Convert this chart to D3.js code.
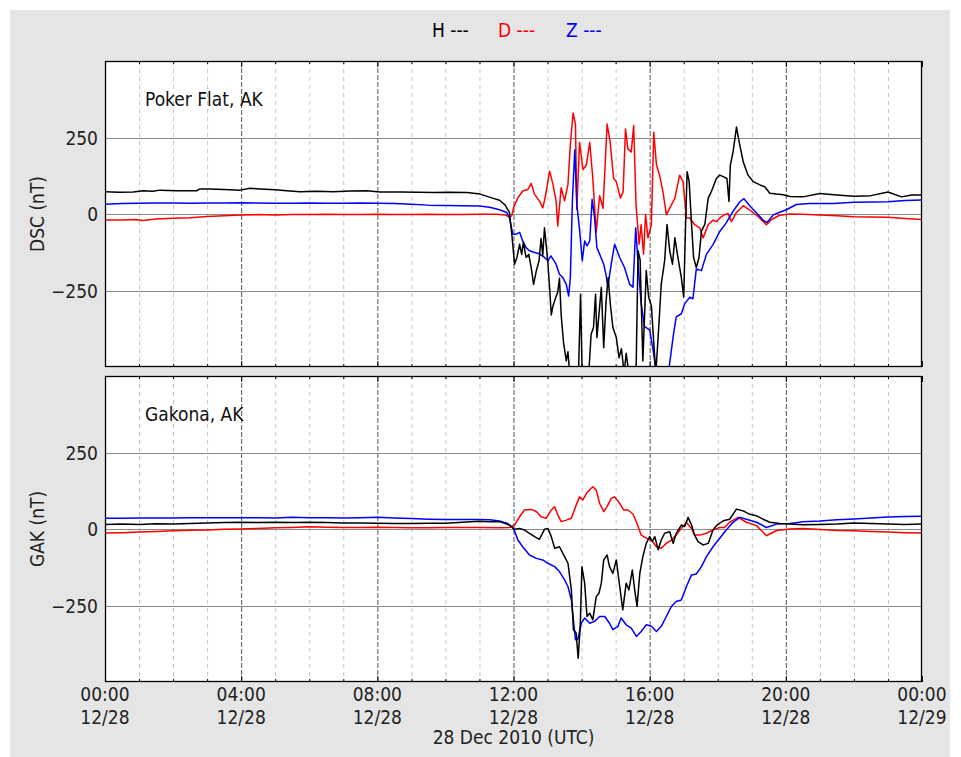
<!DOCTYPE html>
<html lang="en">
<head>
<meta charset="UTF-8">
<title>DSC / GAK magnetometer</title>
<script src="https://d3js.org/d3.v7.min.js"></script>
<style>
  body { margin: 0; background: #fff; }
  text { font-family: "DejaVu Sans Condensed", "DejaVu Sans", sans-serif; font-stretch: condensed; font-size: 19px; }
</style>
</head>
<body>
<svg width="961" height="757"></svg>
<script>
// hours since 00:00 UTC 28 Dec 2010, value in nT
const dscH = [[0,73],[0.4,71],[0.83,72],[1.12,76],[1.4,74],[1.62,78],[2.1,76],[2.69,76],[2.79,82],[3.08,82],[3.5,80],[3.97,78],[4.26,84],[4.55,82],[5,79],[5.34,76],[5.73,73],[6.2,74],[6.71,73],[7.2,75],[7.69,76],[8.08,72],[8.67,72],[9.2,71],[9.65,70],[10.1,71],[10.63,70],[11.02,65],[11.41,51],[11.59,45],[11.75,30],[11.88,5],[11.96,-77],[12.03,-164],[12.1,-142],[12.18,-99],[12.24,-132],[12.29,-93],[12.37,-142],[12.45,-132],[12.52,-175],[12.59,-230],[12.67,-186],[12.75,-153],[12.81,-80],[12.86,-135],[12.91,-45],[12.96,-100],[13.01,-160],[13.06,-240],[13.11,-330],[13.16,-300],[13.25,-270],[13.3,-255],[13.35,-210],[13.4,-330],[13.47,-420],[13.55,-480],[13.6,-450],[13.65,-520],[13.72,-560],[13.8,-540],[13.9,-560],[13.97,-262],[14.02,-540],[14.1,-560],[14.2,-540],[14.28,-393],[14.35,-371],[14.41,-262],[14.45,-404],[14.51,-328],[14.58,-240],[14.65,-437],[14.72,-284],[14.78,-208],[14.85,-300],[14.92,-371],[15.02,-404],[15.1,-470],[15.17,-440],[15.25,-520],[15.31,-455],[15.4,-530],[15.5,-560],[15.6,-520],[15.66,-120],[15.72,-150],[15.8,-480],[15.9,-185],[15.97,-272],[16.05,-300],[16.12,-420],[16.18,-520],[16.25,-401],[16.34,-229],[16.44,-153],[16.51,-34],[16.59,-121],[16.67,-164],[16.74,-78],[16.83,-142],[16.93,-207],[17.0,-272],[17.06,-13],[17.1,138],[17.16,106],[17.23,-34],[17.29,-142],[17.37,-175],[17.45,-142],[17.52,-56],[17.62,-34],[17.72,52],[17.81,73],[17.96,116],[18.06,127],[18.16,122],[18.27,116],[18.33,41],[18.37,160],[18.45,203],[18.55,284],[18.63,235],[18.75,170],[18.89,127],[19.04,106],[19.24,95],[19.38,89],[19.53,68],[19.73,65],[19.92,63],[20.12,57],[20.5,56],[21,67],[21.5,62],[22,58],[22.5,60],[23,72],[23.4,56],[23.7,62],[24,62]];
const dscD = [[0,-20],[0.5,-20],[0.9,-18],[1.1,-21],[1.5,-16],[2,-14],[2.5,-12],[3,-8],[3.5,-6],[4,-3],[4.5,-2],[5,-3],[5.5,-2],[6,-2],[6.5,-1],[7,-2],[7.5,-2],[8,-1],[8.5,-2],[9,-2],[9.5,-1],[10,-2],[10.5,-2],[11,-1],[11.5,-1],[11.75,-3],[11.88,-10],[11.95,-5],[12.0,20],[12.13,53],[12.27,75],[12.42,80],[12.52,100],[12.62,64],[12.76,43],[12.86,20],[12.93,53],[13.06,140],[13.16,97],[13.25,43],[13.3,-39],[13.4,86],[13.5,43],[13.6,97],[13.67,228],[13.75,330],[13.82,293],[13.86,15],[13.94,234],[14.04,145],[14.14,160],[14.24,234],[14.33,116],[14.43,-60],[14.53,60],[14.63,19],[14.75,294],[14.84,235],[14.94,116],[15.02,106],[15.14,52],[15.22,73],[15.29,278],[15.36,213],[15.46,203],[15.53,289],[15.6,30],[15.69,-99],[15.75,-35],[15.82,-131],[15.88,-2],[15.95,-78],[16.05,-35],[16.12,267],[16.2,160],[16.29,127],[16.39,73],[16.49,-2],[16.59,19],[16.74,52],[16.88,127],[16.98,106],[17.08,-13],[17.18,-13],[17.32,-35],[17.47,-45],[17.57,-78],[17.72,-35],[17.86,-20],[17.96,-25],[18.06,-13],[18.2,-2],[18.3,2],[18.4,-25],[18.55,5],[18.75,27],[18.94,13],[19.19,-9],[19.43,-35],[19.58,-18],[19.82,-4],[20.12,0],[20.5,-1],[21,-3],[21.5,-6],[22,-9],[22.5,-10],[23,-11],[23.5,-15],[24,-18]];
const dscZ = [[0,32],[0.5,34],[1,35],[1.5,36],[2,36],[2.5,35],[3,36],[3.5,36],[4,37],[4.5,36],[5,35],[5.5,35],[6,36],[6.5,35],[7,35],[7.5,36],[8,35],[8.5,34],[9,32],[9.5,29],[10,28],[10.5,27],[11,26],[11.3,22],[11.59,14],[11.8,5],[11.88,-12],[11.98,-66],[12.08,-66],[12.18,-60],[12.27,-88],[12.37,-110],[12.47,-120],[12.62,-126],[12.76,-130],[12.91,-142],[13.01,-153],[13.1,-137],[13.25,-164],[13.35,-197],[13.45,-208],[13.55,-230],[13.62,-268],[13.67,-208],[13.73,43],[13.8,210],[13.86,32],[13.94,-50],[14.02,-153],[14.09,-88],[14.16,-104],[14.24,-88],[14.31,48],[14.38,-10],[14.45,-110],[14.53,-131],[14.65,-164],[14.72,-200],[14.77,-239],[14.87,-164],[14.97,-99],[15.12,-142],[15.26,-175],[15.41,-229],[15.51,-239],[15.59,-45],[15.66,-164],[15.75,-293],[15.85,-368],[16.0,-379],[16.1,-444],[16.2,-520],[16.4,-560],[16.55,-520],[16.69,-401],[16.78,-336],[16.93,-326],[17.03,-293],[17.18,-272],[17.27,-277],[17.37,-180],[17.52,-185],[17.67,-131],[17.86,-100],[18.06,-57],[18.25,-29],[18.45,9],[18.65,40],[18.77,50],[18.94,27],[19.14,3],[19.33,-20],[19.45,-28],[19.63,-3],[19.8,5],[20.0,13],[20.31,31],[20.7,34],[21.4,34],[22,38],[23,40],[23.5,44],[24,46]];

const gakH = [[0,15],[0.5,16],[1,15],[1.5,17],[2,16],[2.5,18],[3,20],[3.5,21],[4,22],[4.5,21],[5,22],[5.5,21],[6,22],[6.5,21],[7,20],[7.5,20],[8,19],[8.5,18],[9,18],[9.5,19],[10,19],[10.5,22],[11,25],[11.3,24],[11.59,24],[11.88,13],[12.03,-1],[12.18,2],[12.32,-3],[12.47,-14],[12.62,-25],[12.76,-34],[12.91,-1],[13.01,2],[13.11,-25],[13.21,-63],[13.35,-58],[13.5,-90],[13.6,-112],[13.7,-199],[13.76,-329],[13.84,-340],[13.9,-422],[13.96,-318],[14.01,-123],[14.09,-177],[14.16,-286],[14.24,-275],[14.33,-297],[14.43,-221],[14.51,-210],[14.58,-177],[14.65,-101],[14.75,-85],[14.82,-123],[14.92,-145],[15.02,-101],[15.12,-188],[15.21,-264],[15.31,-177],[15.39,-199],[15.49,-134],[15.56,-199],[15.63,-253],[15.71,-145],[15.8,-90],[15.9,-47],[16.0,-25],[16.08,-41],[16.15,-25],[16.25,-68],[16.34,-36],[16.44,-14],[16.59,-9],[16.69,-47],[16.78,-14],[16.93,13],[17.03,8],[17.13,38],[17.23,13],[17.32,-20],[17.42,-41],[17.57,-52],[17.72,-47],[17.86,-3],[17.96,11],[18.16,27],[18.35,32],[18.55,65],[18.75,59],[18.94,48],[19.14,43],[19.33,32],[19.53,22],[19.82,18],[20.12,16],[20.5,14],[21,15],[21.5,16],[22,20],[22.5,18],[23,16],[23.5,15],[24,16]];
const gakD = [[0,-13],[0.5,-12],[1,-10],[1.5,-8],[2,-6],[2.5,-4],[3,-3],[3.5,-1],[4,0],[4.5,2],[5,4],[5.5,5],[6,7],[6.5,6],[7,5],[7.5,5],[8,6],[8.5,5],[9,4],[9.5,4],[10,5],[10.5,5],[11,5],[11.59,4],[11.88,5],[12.03,13],[12.18,40],[12.32,62],[12.52,64],[12.67,57],[12.81,40],[12.96,35],[13.11,62],[13.21,73],[13.3,46],[13.4,24],[13.55,29],[13.7,35],[13.84,78],[13.94,105],[14.04,95],[14.14,116],[14.24,129],[14.33,138],[14.43,127],[14.53,84],[14.65,57],[14.75,73],[14.87,100],[14.97,105],[15.12,84],[15.24,62],[15.36,62],[15.51,49],[15.63,18],[15.75,-20],[15.9,-30],[16.05,-36],[16.2,-58],[16.34,-63],[16.49,-47],[16.64,-36],[16.78,-20],[16.93,2],[17.08,21],[17.23,2],[17.32,-20],[17.47,-20],[17.67,-14],[17.86,-3],[18.06,5],[18.2,5],[18.35,22],[18.6,38],[18.84,22],[19.14,11],[19.43,-22],[19.73,-5],[20.12,0],[20.5,2],[21,-2],[21.5,-5],[22,-6],[22.5,-8],[23,-10],[23.5,-12],[24,-13]];
const gakZ = [[0,35],[0.5,35],[1,36],[1.5,36],[2,36],[2.5,37],[3,37],[3.5,37],[4,37],[4.5,37],[5,36],[5.5,38],[6,37],[6.5,37],[7,36],[7.5,37],[8,38],[8.5,36],[9,34],[9.5,32],[10,31],[10.5,31],[11,31],[11.3,30],[11.59,26],[11.83,18],[12.0,2],[12.13,-36],[12.27,-58],[12.47,-85],[12.67,-96],[12.86,-101],[13.01,-112],[13.21,-123],[13.35,-139],[13.5,-166],[13.6,-188],[13.7,-232],[13.76,-297],[13.82,-362],[13.89,-360],[13.99,-308],[14.09,-291],[14.24,-308],[14.38,-302],[14.53,-286],[14.68,-286],[14.82,-308],[14.92,-329],[15.07,-318],[15.16,-291],[15.31,-313],[15.46,-324],[15.61,-351],[15.75,-335],[15.9,-313],[16.05,-318],[16.2,-335],[16.34,-318],[16.49,-286],[16.64,-253],[16.78,-237],[16.93,-232],[17.08,-188],[17.23,-150],[17.37,-147],[17.52,-123],[17.67,-90],[17.86,-58],[18.06,-30],[18.2,-10],[18.45,22],[18.65,38],[18.84,32],[19.14,22],[19.43,5],[19.73,16],[20.12,18],[20.5,24],[21,26],[21.5,30],[22,33],[22.5,36],[23,39],[23.5,41],[24,42]];

const components = ["H", "D", "Z"];
const compColors = ["#000000", "#ff0000", "#0000ff"];
const stations = ["DSC (nT)", "GAK (nT)"];
const stationNames = ["Poker Flat, AK", "Gakona, AK"];
const yTicks = [250, 0, -250];
const xMajor = [0, 4, 8, 12, 16, 20, 24];
const xTimeLabels = ["00:00", "04:00", "08:00", "12:00", "16:00", "20:00", "00:00"];
const xDateLabels = ["12/28", "12/28", "12/28", "12/28", "12/28", "12/28", "12/29"];
const xTitle = "28 Dec 2010 (UTC)";

const panels = [[dscH, dscD, dscZ], [gakH, gakD, gakZ]];

const svg = d3.select("svg");
svg.append("rect").attr("x", 10).attr("y", 10).attr("width", 940).attr("height", 747).attr("fill", "#e5e5e5");

const left = 105, right = 922;
const panelTops = [61, 376], panelH = 306;

const x = d3.scaleLinear().domain([0, 24]).range([left, right]);
const hours = d3.range(0, 25);

// legend
const legX = [432, 498, 566];
components.forEach((c, i) => {
  svg.append("text").attr("x", legX[i]).attr("y", 37).attr("fill", compColors[i]).text(c + " ---");
});

panels.forEach((series, p) => {
  const top = panelTops[p];
  const y = d3.scaleLinear().domain([-500, 500]).range([top + panelH, top]);
  const g = svg.append("g");

  g.append("rect").attr("x", left).attr("y", top).attr("width", right - left).attr("height", panelH).attr("fill", "#fff");

  // vertical grid: hourly minor, 4-hourly major
  g.selectAll(".minor").data(hours.filter(h => h % 4 !== 0)).enter().append("line")
    .attr("x1", d => x(d) + 0.5).attr("x2", d => x(d) + 0.5)
    .attr("y1", top).attr("y2", top + panelH)
    .attr("stroke", "#c4c4c4").attr("stroke-width", 1).attr("stroke-dasharray", "4,4");
  g.selectAll(".major").data(xMajor.slice(1, -1)).enter().append("line")
    .attr("x1", d => x(d) + 0.5).attr("x2", d => x(d) + 0.5)
    .attr("y1", top).attr("y2", top + panelH)
    .attr("stroke", "#555").attr("stroke-width", 1).attr("stroke-dasharray", "5,2");

  // horizontal grid
  g.selectAll(".hgrid").data(yTicks).enter().append("line")
    .attr("x1", left).attr("x2", right)
    .attr("y1", d => Math.round(y(d)) + 0.5).attr("y2", d => Math.round(y(d)) + 0.5)
    .attr("stroke", "#8a8a8a").attr("stroke-width", 1);

  // traces
  const clipId = "clip" + p;
  svg.append("clipPath").attr("id", clipId).append("rect")
    .attr("x", left).attr("y", top).attr("width", right - left).attr("height", panelH);
  const line = d3.line().x(d => x(d[0])).y(d => y(d[1]));
  const traces = g.append("g").attr("clip-path", `url(#${clipId})`);
  // D first, then Z, then H on top
  [1, 2, 0].forEach(i => {
    traces.append("path").datum(series[i]).attr("d", line)
      .attr("fill", "none").attr("stroke", compColors[i]).attr("stroke-width", 1.5)
      .attr("stroke-linejoin", "round");
  });

  // ticks (inward)
  g.selectAll(".tb").data(hours).enter().append("line")
    .attr("x1", d => x(d) + 0.5).attr("x2", d => x(d) + 0.5)
    .attr("y1", top + panelH).attr("y2", d => top + panelH - (d % 4 === 0 ? 6 : 3))
    .attr("stroke", "#000");
  g.selectAll(".tt").data(hours).enter().append("line")
    .attr("x1", d => x(d) + 0.5).attr("x2", d => x(d) + 0.5)
    .attr("y1", top).attr("y2", d => top + (d % 4 === 0 ? 6 : 3))
    .attr("stroke", "#000");

  // frame
  g.append("rect").attr("x", left + 0.5).attr("y", top + 0.5).attr("width", right - left - 1).attr("height", panelH - 1)
    .attr("fill", "none").attr("stroke", "#000").attr("stroke-width", 1.3);

  // y tick labels
  g.selectAll(".yl").data(yTicks).enter().append("text")
    .attr("x", 98).attr("y", d => y(d) + 7).attr("text-anchor", "end").attr("fill", "#222")
    .text(d => d3.format("")(d).replace("-", "\u2212"));

  // y axis title
  g.append("text").attr("transform", `translate(44,${top + panelH / 2}) rotate(-90)`)
    .attr("text-anchor", "middle").attr("fill", "#222").text(stations[p]);

  // station name
  g.append("text").attr("x", 145).attr("y", top + 45).attr("fill", "#111").text(stationNames[p]);
});

// x tick labels
const bottom = panelTops[1] + panelH;
svg.selectAll(".xt").data(xMajor).enter().append("text")
  .attr("x", d => x(d)).attr("y", bottom + 19).attr("text-anchor", "middle").attr("fill", "#222")
  .text((d, i) => xTimeLabels[i]);
svg.selectAll(".xd").data(xMajor).enter().append("text")
  .attr("x", d => x(d)).attr("y", bottom + 42).attr("text-anchor", "middle").attr("fill", "#222")
  .text((d, i) => xDateLabels[i]);
svg.append("text").attr("x", x(12)).attr("y", bottom + 62).attr("text-anchor", "middle").attr("fill", "#222").text(xTitle);
</script>
</body>
</html>
